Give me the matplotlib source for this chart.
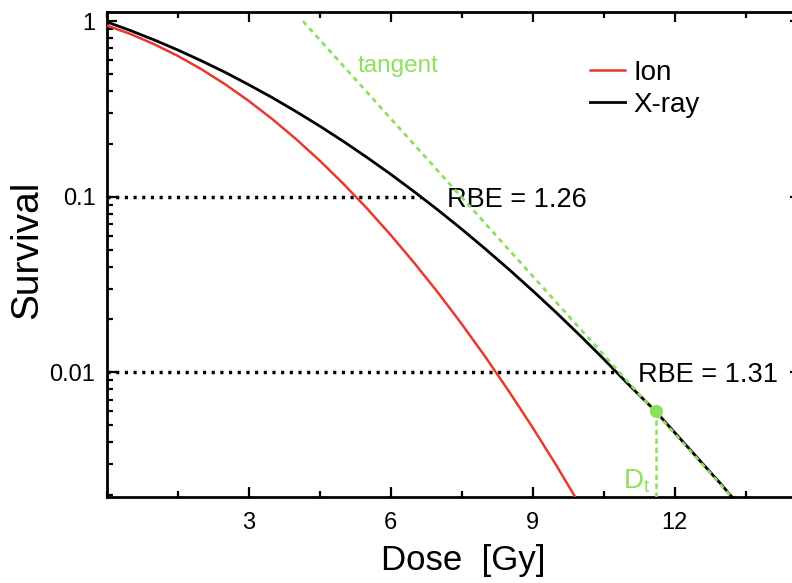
import matplotlib
matplotlib.use('Agg')
import matplotlib.pyplot as plt
from matplotlib.ticker import LogLocator, MultipleLocator, NullFormatter

# survival curves (dose in Gy, surviving fraction)
ion_dose = [0.0, 0.5, 1.0, 1.5, 2.0, 2.5, 3.0, 3.5, 4.0, 4.5, 5.0, 5.5,
            6.0, 6.5, 7.0, 7.5, 8.0, 8.5, 9.0, 9.5, 10.0]
ion_surv = [0.945, 0.846, 0.740, 0.635, 0.533, 0.438, 0.352, 0.277, 0.2134,
            0.1609, 0.1188, 0.0859, 0.0607, 0.0420, 0.0285, 0.0189, 0.01228,
            0.0078, 0.00486, 0.00296, 0.00176]

xray_dose = [0.0, 0.5, 1.0, 1.5, 2.0, 2.5, 3.0, 3.5, 4.0, 4.5, 5.0, 5.5,
             6.0, 6.5, 7.0, 7.5, 8.0, 8.5, 9.0, 9.5, 10.0, 10.5, 11.0, 11.6,
             12.0, 12.5, 13.0, 13.3]
xray_surv = [0.991, 0.885, 0.783, 0.686, 0.595, 0.512, 0.435, 0.367, 0.306,
             0.253, 0.207, 0.1676, 0.1345, 0.1068, 0.0841, 0.0655, 0.0505,
             0.0386, 0.0292, 0.0219, 0.01624, 0.01193, 0.00868, 0.0060,
             0.00455, 0.00322, 0.00228, 0.00183]

# tangent to the x-ray curve at the threshold dose
tangent_dose = [4.15, 13.3]
tangent_surv = [1.0, 0.00183]
dt_dose = 11.6
dt_surv = 0.0060

# iso-effect levels and the x-ray dose reaching them
iso_levels = [0.1, 0.01]
iso_xray_dose = [6.64, 10.78]
rbe_labels = ['RBE = 1.26', 'RBE = 1.31']

RED = '#e8392b'
GREEN = '#8ee05a'

plt.rcParams['font.family'] = ['Liberation Sans', 'DejaVu Sans']
plt.rcParams['mathtext.fontset'] = 'custom'
plt.rcParams['mathtext.rm'] = 'Liberation Sans'
plt.rcParams['mathtext.it'] = 'Liberation Sans:italic'

fig = plt.figure(figsize=(7.92, 5.83), dpi=100)
ax = fig.add_axes([0.1345, 0.1475, 0.8756, 0.8319])

ax.set_yscale('log')
ax.set_xlim(0, 14.65)
ax.set_ylim(0.00195, 1.127)

# dotted iso-survival guides
for level, dose in zip(iso_levels, iso_xray_dose):
    ax.plot([0, dose], [level, level], color='black', lw=2.5,
            linestyle=(0, (0.9, 1.6)), dash_capstyle='butt', zorder=2)

ax.plot(ion_dose, ion_surv, color=RED, lw=1.8, label='Ion', zorder=3)
ax.plot(xray_dose, xray_surv, color='black', lw=2.0, label='X-ray', zorder=3)

ax.plot(tangent_dose, tangent_surv, color=GREEN, lw=2.0,
        linestyle=(0, (1.8, 1.6)), zorder=4)
ax.plot([dt_dose, dt_dose], [dt_surv, 0.00195], color=GREEN, lw=1.8,
        linestyle=(0, (2.2, 1.4)), zorder=4)
ax.plot([dt_dose], [dt_surv], 'o', color=GREEN, ms=8.5, zorder=5)

# annotations
ax.text(7.2, 0.0871, rbe_labels[0], fontsize=19.5, ha='left', va='baseline')
ax.text(11.22, 0.00883, rbe_labels[1], fontsize=19.5, ha='left', va='baseline')
ax.text(5.3, 0.515, 'tangent', fontsize=17.5, color=GREEN, ha='left',
        va='baseline')
ax.text(10.92, 0.00219, r'D$_\mathrm{t}$', fontsize=20, color=GREEN,
        ha='left', va='baseline')

leg = ax.legend(loc='upper left', bbox_to_anchor=(0.6975, 0.901),
                frameon=False, fontsize=20, handlelength=1.26,
                handletextpad=0.3, labelspacing=0.2, borderpad=0,
                borderaxespad=0)

# axes, ticks and labels
ax.set_xticks([3, 6, 9, 12])
ax.xaxis.set_minor_locator(MultipleLocator(1.5))
ax.set_yticks([0.01, 0.1, 1])
ax.set_yticklabels(['0.01', '0.1', '1'])
ax.yaxis.set_minor_locator(LogLocator(base=10, subs=range(2, 10)))
ax.yaxis.set_minor_formatter(NullFormatter())

ax.tick_params(which='both', direction='in', top=True, right=True, width=1.6)
ax.tick_params(which='major', length=7, labelsize=17)
ax.tick_params(which='minor', length=4.5)
ax.tick_params(axis='x', which='major', pad=11)
ax.tick_params(axis='y', which='major', pad=8)
for spine in ax.spines.values():
    spine.set_linewidth(2)

ax.set_xlabel('Dose  [Gy]', fontsize=25)
ax.xaxis.label.set_va('baseline')
ax.xaxis.set_label_coords((463 - 106.5) / 693.5, (497 - 570) / 485)

ax.set_ylabel('Survival', fontsize=28)
ax.yaxis.label.set_va('center')
ax.yaxis.set_label_coords((27.5 - 106.5) / 693.5, (497 - 250) / 485)

fig.savefig('out.png', dpi=100)
